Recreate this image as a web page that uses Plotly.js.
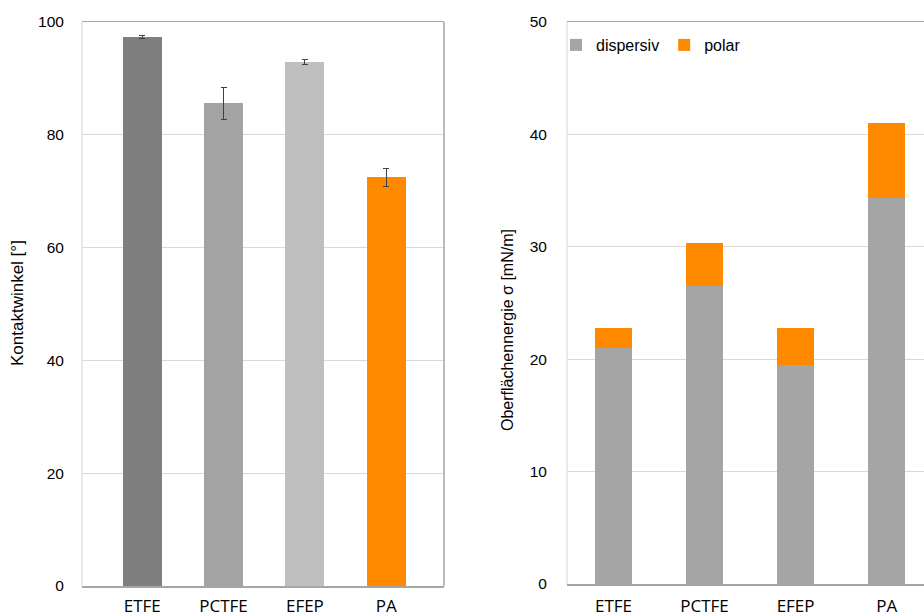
<!DOCTYPE html>
<html>
<head>
<meta charset="utf-8">
<script src="https://cdn.plot.ly/plotly-3.0.1.min.js"></script>
<style>html,body{margin:0;padding:0;background:#fff;}#chart{width:924px;height:616px;}</style>
</head>
<body>
<div id="chart"></div>
<script>
const categories = ['ETFE', 'PCTFE', 'EFEP', 'PA'];
const contactAngle = [97.3, 85.6, 92.9, 72.5];
const contactAngleErr = [0.3, 2.8, 0.4, 1.6];
const dispersiv = [21.0, 26.5, 19.5, 34.3];
const polar = [1.8, 3.8, 3.3, 6.7];
const leftTicks = [0, 20, 40, 60, 80, 100];
const rightTicks = [0, 10, 20, 30, 40, 50];
const leftTitle = 'Kontaktwinkel [°]';
const rightTitle = 'Oberflächennergie σ [mN/m]';

const W = 924, H = 616;
const tickFont = {family: 'Liberation Sans, Arial, sans-serif', size: 15.5, color: '#000'};
const catFont = {family: 'Open Sans, sans-serif', size: 17, color: '#000'};

const traces = [
  {
    type: 'bar', x: categories, y: contactAngle, xaxis: 'x', yaxis: 'y',
    marker: {color: ['#7f7f7f', '#a3a3a3', '#bfbfbf', '#ff8a00']},
    width: 0.48, showlegend: false,
    error_y: {type: 'data', array: contactAngleErr, visible: true, color: '#404040', thickness: 1, width: 3}
  },
  {
    type: 'bar', name: 'dispersiv', x: categories, y: dispersiv, xaxis: 'x2', yaxis: 'y2',
    marker: {color: '#a5a5a5'}, width: 0.4
  },
  {
    type: 'bar', name: 'polar', x: categories, y: polar, xaxis: 'x2', yaxis: 'y2',
    marker: {color: '#ff8a00'}, width: 0.4
  }
];

const layout = {
  width: W, height: H,
  margin: {l: 0, r: 0, t: 0, b: 0},
  paper_bgcolor: '#fff', plot_bgcolor: '#fff',
  barmode: 'stack',
  showlegend: true,
  legend: {
    orientation: 'h', x: 556 / W, y: 1 - 28 / H, xanchor: 'left', yanchor: 'top',
    font: {family: 'Liberation Sans, Arial, sans-serif', size: 16, color: '#000'},
    bgcolor: 'rgba(0,0,0,0)', itemwidth: 30, tracegroupgap: 0,
    traceorder: 'normal'
  },
  xaxis: {
    domain: [82 / W, 444 / W], anchor: 'y',
    range: [-0.74, 3.71], type: 'category',
    showgrid: false, showline: true, linecolor: '#a6a6a6', linewidth: 1.5, mirror: true,
    ticks: 'outside', ticklen: 4, tickcolor: 'rgba(0,0,0,0)',
    tickfont: catFont, fixedrange: true
  },
  yaxis: {
    domain: [1 - 586 / H, 1 - 22 / H], anchor: 'x',
    range: [0, 100], tickvals: leftTicks,
    showgrid: true, gridcolor: '#d9d9d9', gridwidth: 1,
    showline: false, zeroline: false,
    ticks: 'outside', ticklen: 14, tickcolor: 'rgba(0,0,0,0)',
    tickfont: tickFont
  },
  xaxis2: {
    domain: [567 / W, 1], anchor: 'y2',
    range: [-0.51, 3.41], type: 'category',
    showgrid: false, showline: true, linecolor: '#a6a6a6', linewidth: 1.5, mirror: true,
    ticks: 'outside', ticklen: 6, tickcolor: 'rgba(0,0,0,0)',
    tickfont: catFont
  },
  yaxis2: {
    domain: [1 - 584 / H, 1 - 22 / H], anchor: 'x2',
    range: [0, 50], tickvals: rightTicks,
    showgrid: true, gridcolor: '#d9d9d9', gridwidth: 1,
    showline: false, zeroline: false,
    ticks: 'outside', ticklen: 16, tickcolor: 'rgba(0,0,0,0)',
    tickfont: tickFont
  },
  annotations: [
    {text: leftTitle, xref: 'paper', yref: 'paper', x: 18 / W, y: 1 - 303 / H,
     xanchor: 'center', yanchor: 'middle', textangle: -90, showarrow: false,
     font: {family: 'Liberation Sans, Arial, sans-serif', size: 17, color: '#000'}},
    {text: rightTitle, xref: 'paper', yref: 'paper', x: 507 / W, y: 1 - 330 / H,
     xanchor: 'center', yanchor: 'middle', textangle: -90, showarrow: false,
     font: {family: 'Liberation Sans, Arial, sans-serif', size: 16, color: '#000'}}
  ],
  shapes: [
    {type: 'line', xref: 'x domain', yref: 'y domain', x0: 0, x1: 0, y0: 0, y1: 1, line: {color: '#e3e3e3', width: 1.5}},
    {type: 'line', xref: 'x domain', yref: 'y domain', x0: 1, x1: 1, y0: 0, y1: 1, line: {color: '#a6a6a6', width: 1.5}},
    {type: 'line', xref: 'x2 domain', yref: 'y2 domain', x0: 0, x1: 0, y0: 0, y1: 1, line: {color: '#e3e3e3', width: 1.5}}
  ]
};

Plotly.newPlot('chart', traces, layout, {displayModeBar: false, staticPlot: true});
</script>
</body>
</html>
